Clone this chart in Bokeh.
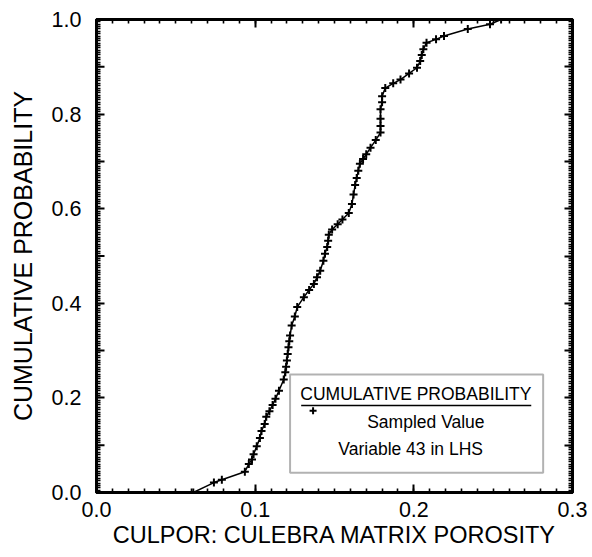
import numpy as np
from bokeh.plotting import figure
from bokeh.models import Range1d, FixedTicker, LinearAxis, BoxAnnotation, Label, PrintfTickFormatter
from bokeh.embed import file_html
from bokeh.resources import INLINE

porosity = [0.061, 0.074, 0.079, 0.0935, 0.096, 0.098, 0.099, 0.101, 0.103, 0.104,
            0.106, 0.107, 0.109, 0.111, 0.1128, 0.115, 0.118, 0.119, 0.1195, 0.120,
            0.1205, 0.121, 0.1215, 0.122, 0.123, 0.125, 0.1265, 0.1307, 0.134, 0.137,
            0.139, 0.141, 0.143, 0.144, 0.1454, 0.146, 0.1464, 0.1485, 0.152, 0.155,
            0.159, 0.161, 0.162, 0.163, 0.164, 0.165, 0.166, 0.168, 0.170, 0.1727,
            0.176, 0.179, 0.179, 0.179, 0.179, 0.180, 0.180, 0.182, 0.187, 0.1916,
            0.197, 0.202, 0.204, 0.205, 0.206, 0.208, 0.214, 0.219, 0.234, 0.248, 0.255]
cum_prob = [0.0, 0.021, 0.027, 0.044, 0.06, 0.07, 0.081, 0.098, 0.115, 0.13,
            0.145, 0.16, 0.172, 0.185, 0.198, 0.215, 0.239, 0.254, 0.266, 0.279,
            0.293, 0.307, 0.32, 0.332, 0.353, 0.372, 0.392, 0.413, 0.428, 0.441,
            0.455, 0.469, 0.490, 0.505, 0.519, 0.532, 0.545, 0.556, 0.567, 0.577,
            0.591, 0.61, 0.63, 0.65, 0.665, 0.68, 0.695, 0.705, 0.715, 0.729,
            0.745, 0.761, 0.775, 0.79, 0.81, 0.825, 0.838, 0.855, 0.865, 0.873,
            0.886, 0.898, 0.912, 0.925, 0.937, 0.951, 0.958, 0.965, 0.98, 0.99, 1.0]

x_major = [0.0, 0.1, 0.2, 0.3]
y_labeled = [0.0, 0.2, 0.4, 0.6, 0.8, 1.0]
y_tenths = [0.0, 0.1, 0.2, 0.3, 0.4, 0.5, 0.6, 0.7, 0.8, 0.9, 1.0]
y_mid = [0.1, 0.3, 0.5, 0.7, 0.9]

x_minor = [round(v, 3) for v in np.arange(0, 0.3001, 0.01)]
y_minor = [round(v, 4) for v in np.arange(0, 1.0001, 0.005)]

FONT = "Liberation Sans"
FRAME_W = 476

p = figure(frame_width=FRAME_W, frame_height=473, output_backend="svg", toolbar_location=None,
           x_range=Range1d(0, 0.3), y_range=Range1d(0, 1),
           min_border_left=96, min_border_right=20, min_border_top=19, min_border_bottom=60)
p.xgrid.visible = False
p.ygrid.visible = False
p.outline_line_color = "black"
p.outline_line_width = 3
p.background_fill_color = "white"
p.border_fill_color = "white"


def style_axis(ax, ticks, minor, show_labels):
    ax.ticker = FixedTicker(ticks=ticks, minor_ticks=minor)
    ax.formatter = PrintfTickFormatter(format="%.1f")
    ax.axis_line_color = "black"
    ax.axis_line_width = 3
    ax.major_tick_in = 8
    ax.major_tick_out = 0
    ax.minor_tick_in = 4
    ax.minor_tick_out = 0
    ax.major_tick_line_width = 2
    ax.minor_tick_line_width = 1.6
    ax.major_tick_line_color = "black"
    ax.minor_tick_line_color = "black"
    if show_labels:
        ax.major_label_text_font = FONT
        ax.major_label_text_font_size = "21.5px"
        ax.major_label_text_color = "black"
    else:
        ax.major_label_text_font_size = "1px"
        ax.major_label_text_color = None
        ax.major_label_standoff = 0


style_axis(p.xaxis[0], x_major, x_minor, True)
style_axis(p.yaxis[0], y_labeled, y_minor, True)
p.xaxis[0].major_label_standoff = 9
p.yaxis[0].major_label_standoff = 15
p.xaxis.axis_label = "CULPOR: CULEBRA MATRIX POROSITY"
p.yaxis.axis_label = "CUMULATIVE PROBABILITY"
for ax, fs, so in ((p.xaxis[0], "23.5px", 2), (p.yaxis[0], "25px", 12)):
    ax.axis_label_text_font = FONT
    ax.axis_label_text_font_size = fs
    ax.axis_label_text_font_style = "normal"
    ax.axis_label_text_color = "black"
    ax.axis_label_standoff = so

top_ax = LinearAxis()
style_axis(top_ax, x_major, x_minor, False)
p.add_layout(top_ax, "above")
right_ax = LinearAxis()
style_axis(right_ax, y_tenths, y_minor, False)
p.add_layout(right_ax, "right")

# unlabeled tenth ticks on the left axis, same length as the labeled ones
tick_len = 8 * 0.3 / FRAME_W
p.segment(x0=[0.0] * len(y_mid), y0=y_mid, x1=[tick_len] * len(y_mid), y1=y_mid,
          line_color="black", line_width=2)

# legend box (beneath glyphs so its marker and rule stay visible)
p.add_layout(BoxAnnotation(left=0.122, right=0.2815, bottom=0.042, top=0.2495,
                           fill_color="white", fill_alpha=1.0, level="underlay",
                           line_color="black", line_width=2))

# curve + sample markers
p.line(porosity, cum_prob, line_color="black", line_width=1.5)
p.scatter(porosity, cum_prob, marker="cross", size=8, line_color="black", line_width=2)

p.add_layout(Label(x=0.2013, y=0.209, text="CUMULATIVE PROBABILITY", text_align="center",
                   text_baseline="middle", text_font=FONT, text_font_size="17.5px",
                   text_color="black"))
p.line([0.129, 0.274], [0.184, 0.184], line_color="black", line_width=1.5)
p.scatter([0.1365], [0.173], marker="cross", size=7, line_color="black", line_width=2)
p.add_layout(Label(x=0.2076, y=0.148, text="Sampled Value", text_align="center",
                   text_baseline="middle", text_font=FONT, text_font_size="17.5px",
                   text_color="black"))
p.add_layout(Label(x=0.198, y=0.093, text="Variable 43 in LHS", text_align="center",
                   text_baseline="middle", text_font=FONT, text_font_size="17.5px",
                   text_color="black"))

open("out.html", "w").write(file_html(p, INLINE))
